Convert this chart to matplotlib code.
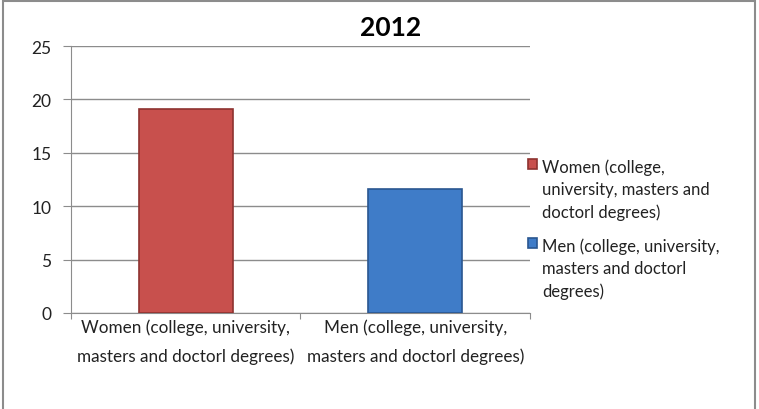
import matplotlib.pyplot as plt
from matplotlib.patches import Rectangle

plt.rcParams['font.family'] = ['Lato', 'DejaVu Sans']

# data
categories = ['Women (college, university,\nmasters and doctorl degrees)',
              'Men (college, university,\nmasters and doctorl degrees)']
legend_labels = ['Women (college,\nuniversity, masters and\ndoctorl degrees)',
                 'Men (college, university,\nmasters and doctorl\ndegrees)']
values = [19.1, 11.6]
colors = ['#C8504D', '#3F7CC8']
edges = ['#8E3230', '#2A5690']
yticks = [0, 5, 10, 15, 20, 25]
title = '2012'

W, H = 759, 410
fig = plt.figure(figsize=(W / 100, H / 100), dpi=100)
ax = fig.add_axes([71 / W, 1 - 314 / H, (530 - 71) / W, (314 - 47) / H])

x = [0, 1]
bars = ax.bar(x, values, width=0.41, color=colors, edgecolor=edges, linewidth=1.2, zorder=3)

ax.set_xlim(-0.5, 1.5)
ax.set_ylim(0, 25)
ax.set_yticks(yticks)
ax.yaxis.grid(True, color='#8C8C8C', linewidth=1, zorder=0)
for s in ['top', 'right']:
    ax.spines[s].set_visible(False)
ax.spines['left'].set_color('#8C8C8C')
ax.spines['bottom'].set_color('#8C8C8C')
ax.tick_params(axis='y', length=6, color='#8C8C8C', labelsize=12.5, labelcolor='#222222', pad=8)
ax.set_xticks([-0.5, 0.5, 1.5], minor=False)
ax.set_xticklabels([])
ax.tick_params(axis='x', length=4.5, color='#8C8C8C')
ax.set_xticks(x, minor=True)
ax.set_xticklabels(categories, minor=True, fontsize=12.3, color='#222222', linespacing=1.9)
ax.tick_params(axis='x', which='minor', length=0, pad=4)

fig.text(391 / W, 1 - 28 / H, title, ha='center', va='center', fontsize=19, fontweight='bold')

# legend
leg = ax.legend(bars, legend_labels, loc='upper left', bbox_to_anchor=(521 / W, 1 - 153 / H),
                bbox_transform=fig.transFigure, frameon=False, fontsize=12, handlelength=0.55,
                handleheight=0.55, handletextpad=0.3, labelspacing=1.08, borderaxespad=0)
for t in leg.get_texts():
    t.set_color('#222222')
    t.set_linespacing(1.45)
for hp in leg._legend_handle_box.get_children():
    for row in hp.get_children():
        row.align = 'top'

# outer border
fig.patches.append(Rectangle((3 / W, -0.05), (755 - 3) / W, 1.05 - 1.5 / H, transform=fig.transFigure,
                             fill=False, edgecolor='#8C8C8C', linewidth=1.5))

fig.savefig('out.png', dpi=100)
